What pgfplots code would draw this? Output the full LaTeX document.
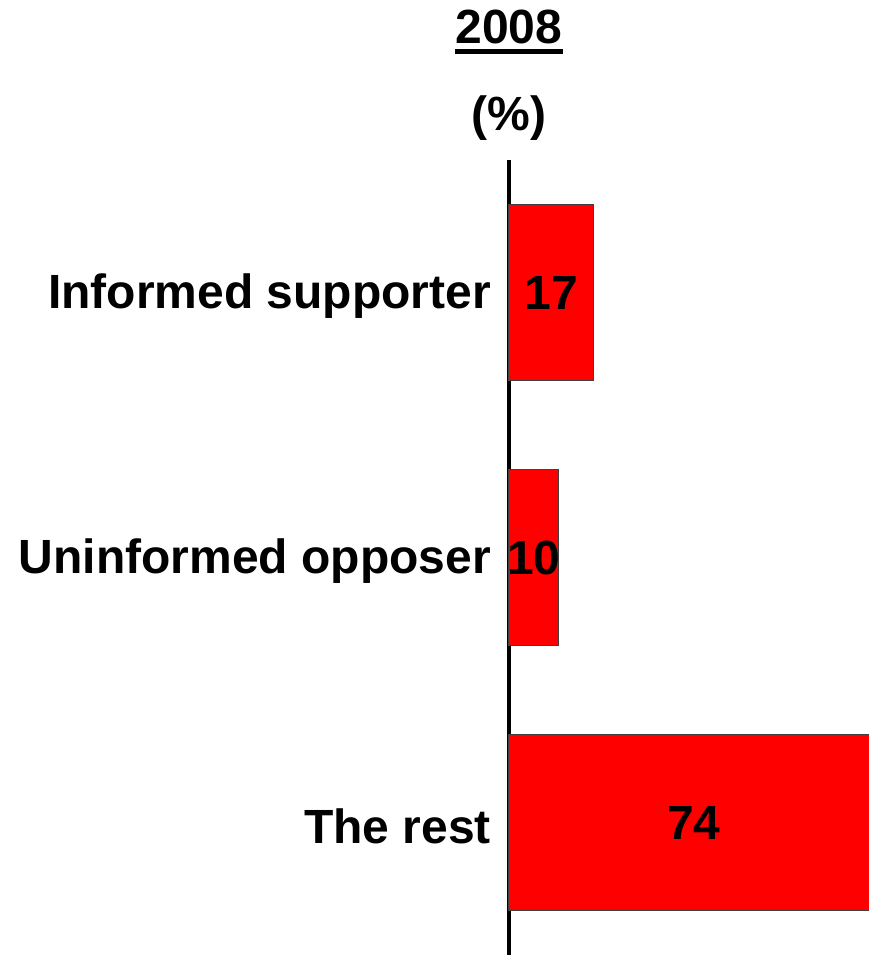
\documentclass[border=0pt]{standalone}
\usepackage{fontspec}
\setmainfont{Liberation Sans}
\usepackage{pgfplots}
\pgfplotsset{compat=1.18}
\begin{document}
\fontsize{48bp}{58bp}\selectfont\bfseries
\begin{tikzpicture}
\begin{axis}[
  name=ax,
  scale only axis,
  width=360bp, height=795bp,
  xmin=0, xmax=72,
  ymin=-0.5, ymax=2.5,
  xbar, bar width=176bp,
  axis y line=left, axis x line=none,
  y axis line style={-, line width=4bp, black},
  major tick length=0pt,
  xtick=\empty,
  ytick={0,1,2},
  yticklabels={The rest, Uninformed opposer, Informed supporter},
  yticklabel style={anchor=east, inner sep=0pt, xshift=-18bp, yshift=-4bp, font=\fontsize{48bp}{58bp}\selectfont\bfseries},
  clip=false,
  /pgf/number format/assume math mode=true,
  nodes near coords,
  visualization depends on=rawx \as \rawx,
  every node near coord/.append style={anchor=center, inner sep=0pt, xshift={-\rawx*2.5bp}, font=\fontsize{48bp}{58bp}\selectfont\bfseries, text=black},
]
\addplot[fill=red, draw=black!75, line width=1bp] coordinates {(74,0) (10,1) (17,2)};
\end{axis}
\node[anchor=base, inner sep=0pt] (t) at ([yshift=116bp]ax.north west) {2008};
\draw[line width=5bp] ([yshift=-7.5bp]t.base west) -- ([yshift=-7.5bp]t.base east);
\node[anchor=base, inner sep=0pt] at ([yshift=29bp]ax.north west) {(\%)};
\pgfresetboundingbox
\path[use as bounding box] ([xshift=-509bp]ax.south west) rectangle ([yshift=160bp]ax.north east);
\end{tikzpicture}
\end{document}
